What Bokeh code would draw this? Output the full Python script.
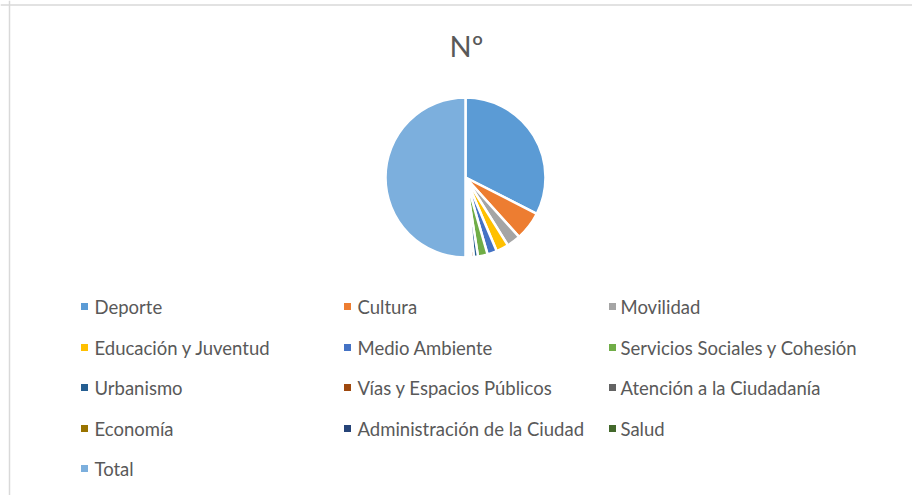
import math
from bokeh.plotting import figure
from bokeh.models import Range1d, Span, ColumnDataSource
from bokeh.core.properties import value
from bokeh.embed import file_html
from bokeh.resources import INLINE

# ---- data ----
title = "Nº"
categories = ["Deporte", "Cultura", "Movilidad", "Educación y Juventud", "Medio Ambiente",
              "Servicios Sociales y Cohesión", "Urbanismo", "Vías y Espacios Públicos",
              "Atención a la Ciudadanía", "Economía", "Administración de la Ciudad", "Salud", "Total"]
values = [117, 21, 10, 9, 7, 7, 3, 2, 1, 1, 1, 1, 180]
colors = ["#5B9BD5", "#ED7D31", "#A5A5A5", "#FFC000", "#4472C4", "#70AD47", "#255E91",
          "#9E480E", "#636363", "#997300", "#264478", "#43682B", "#7CAFDD"]

W, H = 912, 495
FONT = "Lato"

p = figure(width=W, height=H, output_backend="svg", toolbar_location=None,
           x_range=Range1d(0, W), y_range=Range1d(0, H), min_border=0)
p.axis.visible = False
p.grid.visible = False
p.outline_line_color = None
p.background_fill_color = "white"

def Y(page_y):
    return H - page_y

def X(page_x):
    return page_x

# chart border (left and top)
p.add_layout(Span(location=X(9), dimension="height", line_color="#D9D9D9", line_width=1.5))
p.add_layout(Span(location=Y(4.5), dimension="width", line_color="#D9D9D9", line_width=1.5))

# pie
total = sum(values)
starts, ends = [], []
cum = 0
for v in values:
    starts.append(math.pi / 2 - cum / total * 2 * math.pi)
    cum += v
    ends.append(math.pi / 2 - cum / total * 2 * math.pi)
src = ColumnDataSource(dict(start=starts, end=ends, color=colors, cat=categories))
p.wedge(x=X(465), y=Y(177), radius=80, start_angle="start", end_angle="end",
        direction="clock", fill_color="color", line_color="white", line_width=2.5, source=src)

# title
p.text(x=[X(466)], y=[Y(45)], text=[title], text_align="center", text_baseline="middle",
       text_font=value(FONT), text_font_size="29px", text_color="#595959")

# legend (3 columns)
col_marker = [84, 347, 612]
col_text = [94, 357, 620]
row_y = [306, 347, 387, 428, 468]
lx, ly, tx, ty = [], [], [], []
for i, c in enumerate(categories):
    r, k = divmod(i, 3)
    lx.append(X(col_marker[k])); ly.append(Y(row_y[r]))
    tx.append(X(col_text[k])); ty.append(Y(row_y[r]))
p.rect(x=lx, y=ly, width=7, height=7, fill_color=colors, line_color=None)
p.text(x=tx, y=ty, text=categories, text_baseline="middle", text_align="left",
       text_font=value(FONT), text_font_size="18.5px", text_color="#595959")

open("out.html", "w").write(file_html(p, INLINE))
